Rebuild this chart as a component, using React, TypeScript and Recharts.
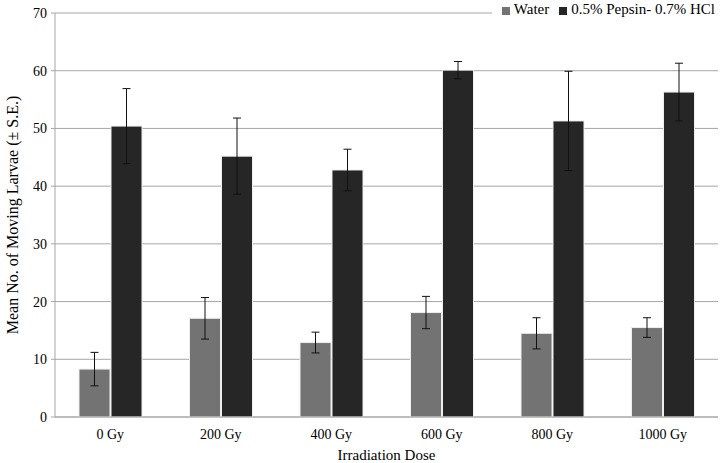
import { Bar, BarChart, CartesianGrid, ErrorBar, Legend, XAxis, YAxis } from "recharts";

// Irradiation dose vs. mean moving larvae, two media side by side.
const doses = ["0 Gy", "200 Gy", "400 Gy", "600 Gy", "800 Gy", "1000 Gy"];
const water = [8.3, 17.1, 12.9, 18.1, 14.5, 15.5];
const waterSE = [2.9, 3.6, 1.8, 2.8, 2.7, 1.7];
const pepsin = [50.4, 45.2, 42.8, 60.1, 51.3, 56.3];
const pepsinSE = [6.5, 6.6, 3.6, 1.5, 8.6, 5.0];
const yTicks = [0, 10, 20, 30, 40, 50, 60, 70];
const boundaryTicks = [0, 1, 2, 3, 4, 5, 6];
const legendOrder = ["Water", "0.5% Pepsin- 0.7% HCl"];

const data = doses.map((dose, i) => ({
  dose,
  water: water[i],
  waterSE: waterSE[i],
  pepsin: pepsin[i],
  pepsinSE: pepsinSE[i],
}));

const FONT = "'Liberation Serif', 'Times New Roman', serif";
const AXIS_GREY = "#a6a6a6";
const TICK = { fontSize: 14, fill: "#000", fontFamily: FONT } as const;

export default function App() {
  return (
    <div style={{ position: "absolute", left: 0, top: 0, background: "#fff", fontFamily: FONT }}>
      <style>{`svg text, .recharts-legend-wrapper { font-family: ${FONT} !important; }`}</style>
      <BarChart
        width={725}
        height={463}
        data={data}
        margin={{ top: -3, right: 7, left: 0, bottom: 0 }}
        barSize={31}
        barGap={1}
      >
        <CartesianGrid vertical={false} stroke={AXIS_GREY} strokeWidth={1} />
        <XAxis
          xAxisId="bounds"
          type="number"
          domain={[0, 6]}
          ticks={boundaryTicks}
          height={0}
          axisLine={false}
          tickLine={{ stroke: AXIS_GREY }}
          tickSize={4}
          tickFormatter={() => ""}
        />
        <XAxis
          dataKey="dose"
          height={46}
          tickLine={false}
          axisLine={{ stroke: AXIS_GREY }}
          tick={TICK}
          tickMargin={6}
          label={{
            value: "Irradiation Dose",
            position: "insideBottom",
            offset: 3,
            style: { fontSize: 15, fill: "#000", fontFamily: FONT },
          }}
        />
        <YAxis
          domain={[0, 70]}
          ticks={yTicks}
          width={55}
          axisLine={{ stroke: AXIS_GREY }}
          tickLine={{ stroke: AXIS_GREY }}
          tickSize={4}
          tick={TICK}
          tickMargin={4}
          label={{
            value: "Mean No. of Moving Larvae (± S.E.)",
            angle: -90,
            position: "insideLeft",
            offset: 12,
            style: { textAnchor: "middle", fontSize: 16, fill: "#000", fontFamily: FONT },
          }}
        />
        <Legend
          verticalAlign="top"
          align="right"
          layout="horizontal"
          iconType="square"
          iconSize={8}
          itemSorter={(item: any) => legendOrder.indexOf(item.value)}
          wrapperStyle={{
            top: 1,
            right: 0,
            width: "auto",
            background: "#fff",
            paddingLeft: 10,
            fontSize: 15,
            lineHeight: "16px",
          }}
          formatter={(value) => <span style={{ color: "#000" }}>{value}</span>}
        />
        <Bar
          dataKey="water"
          name="Water"
          fill="#737373"
          stroke="#eeeeee"
          strokeWidth={1}
          isAnimationActive={false}
        >
          <ErrorBar dataKey="waterSE" width={4} stroke="#111" strokeWidth={1} />
        </Bar>
        <Bar
          dataKey="pepsin"
          name="0.5% Pepsin- 0.7% HCl"
          fill="#262626"
          stroke="#eeeeee"
          strokeWidth={1}
          isAnimationActive={false}
        >
          <ErrorBar dataKey="pepsinSE" width={4} stroke="#111" strokeWidth={1} />
        </Bar>
      </BarChart>
    </div>
  );
}
